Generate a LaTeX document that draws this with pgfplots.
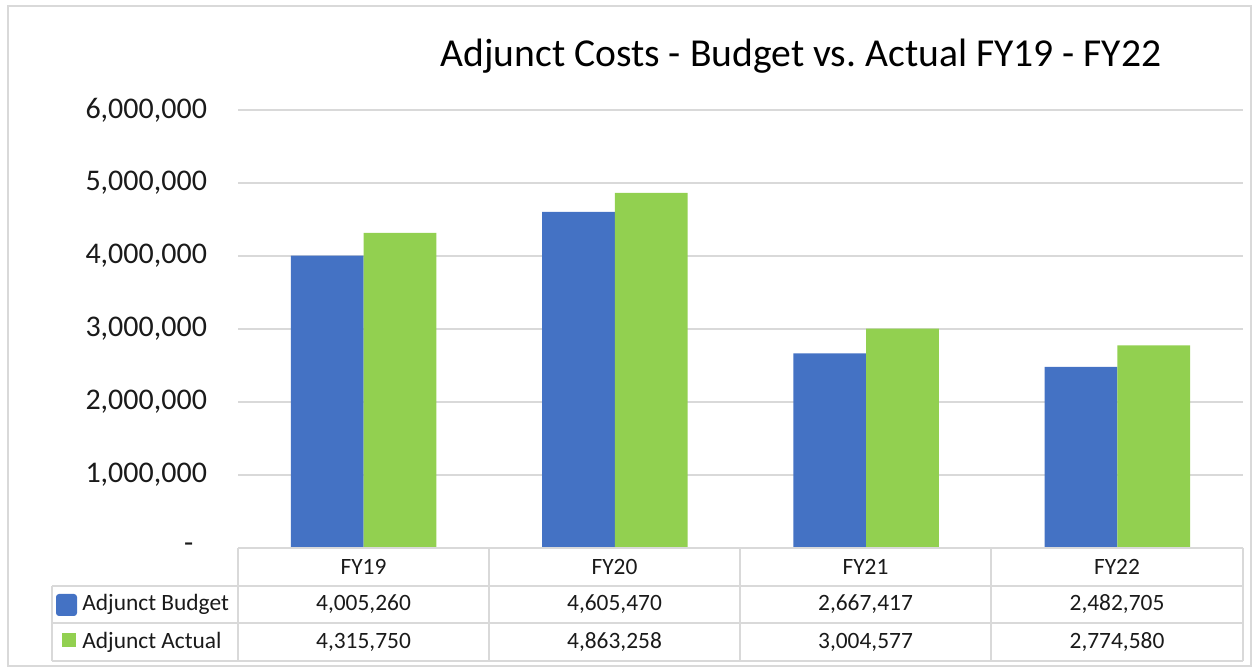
\documentclass[border=0pt]{standalone}
\usepackage{fontspec}
\setmainfont{Carlito}
\usepackage{pgfplots}
\pgfplotsset{compat=1.18}
\definecolor{cblue}{HTML}{4472C4}
\definecolor{cgreen}{HTML}{92D050}
\definecolor{lgray}{HTML}{D9D9D9}
\definecolor{txt}{HTML}{1A1A1A}
\begin{document}
\begin{tikzpicture}
\begin{scope}[x=0.5pt,y=-0.5pt]
\path[use as bounding box] (0,0) rectangle (1254,672);
\draw[lgray, line width=1pt] (8,6) rectangle (1251,666);
\end{scope}
\begin{axis}[
  at={(119pt,-274pt)}, anchor=south west,
  width=502.5pt, height=219pt, scale only axis,
  xmin=-0.5, xmax=3.5, ymin=0, ymax=6000000,
  xtick=\empty,
  scaled y ticks=false,
  ytick={0,1000000,2000000,3000000,4000000,5000000,6000000},
  yticklabels={{-\rule{0.45em}{0pt}},{1,000,000},{2,000,000},{3,000,000},{4,000,000},{5,000,000},{6,000,000}},
  yticklabel style={font=\fontsize{15}{17}\selectfont, text=txt, xshift=-12pt},
  ymajorgrids, grid style={lgray, line width=0.75pt},
  axis line style={draw=none}, major tick length=0pt,
  ybar=0pt, bar width=0.29,
  clip=false,
]
\addplot[fill=cblue, draw=none] coordinates {(0,4005260) (1,4605470) (2,2667417) (3,2482705)};
\addplot[fill=cgreen, draw=none] coordinates {(0,4315750) (1,4863258) (2,3004577) (3,2774580)};
\end{axis}
\begin{scope}[x=0.5pt,y=-0.5pt]
\node[font=\fontsize{19.8}{22}\selectfont, text=black] at (801,56) {Adjunct\ Costs\ -\ Budget\ vs.\ Actual\ FY19\ -\ FY22};
\draw[lgray, line width=1pt] (238,548) -- (1243,548);
\foreach \yy in {586,623,661} \draw[lgray, line width=1pt] (52,\yy) -- (1243,\yy);
\draw[lgray, line width=1pt] (52,586) -- (52,661);
\foreach \xx in {238,489,740,991,1243} \draw[lgray, line width=1pt] (\xx,548) -- (\xx,661);
\begin{scope}[every node/.style={font=\fontsize{11.7}{14}\selectfont, text=txt}]
\node at (363.5,567) {FY19};
\node at (614.5,567) {FY20};
\node at (865.5,567) {FY21};
\node at (1117,567) {FY22};
\node at (363.5,604.5) {4,005,260};
\node at (614.5,604.5) {4,605,470};
\node at (865.5,604.5) {2,667,417};
\node at (1117,604.5) {2,482,705};
\node at (363.5,642) {4,315,750};
\node at (614.5,642) {4,863,258};
\node at (865.5,642) {3,004,577};
\node at (1117,642) {2,774,580};
\node[anchor=west, inner sep=0pt] at (82,604.5) {Adjunct Budget};
\node[anchor=west, inner sep=0pt] at (82,642) {Adjunct Actual};
\end{scope}
\fill[cblue, rounded corners=1.5pt] (56,594) rectangle (77,616);
\fill[cgreen] (62,633) rectangle (76,647);
\end{scope}
\end{tikzpicture}
\end{document}
